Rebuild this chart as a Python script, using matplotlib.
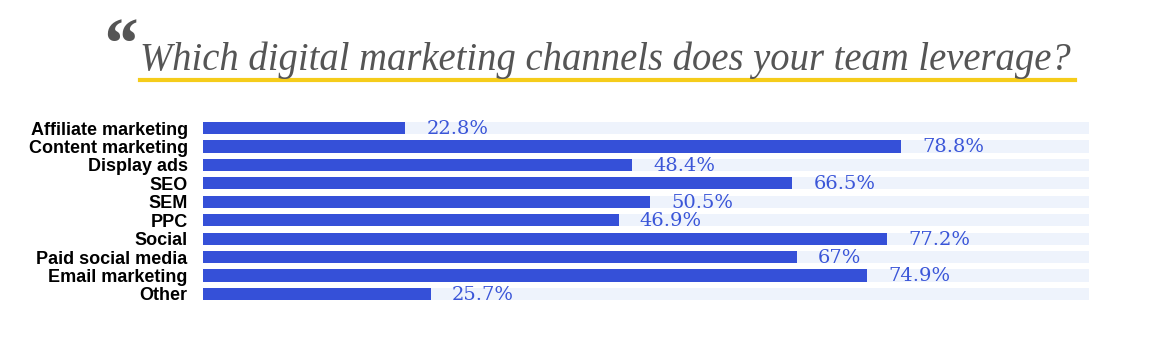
import matplotlib.pyplot as plt
from matplotlib.lines import Line2D

# ---- data ------------------------------------------------------------------
channels = ["Affiliate marketing", "Content marketing", "Display ads", "SEO",
            "SEM", "PPC", "Social", "Paid social media", "Email marketing",
            "Other"]
shares = [22.8, 78.8, 48.4, 66.5, 50.5, 46.9, 77.2, 67, 74.9, 25.7]
title = "Which digital marketing channels does your team leverage?"

BAR_COLOR = "#3550d8"
TRACK_COLOR = "#eef3fc"
LABEL_COLOR = "#3a55d8"

W, H = 1170, 346
fig = plt.figure(figsize=(W / 100, H / 100), dpi=100)

# axes placed in pixel terms of the reference
left, right = 203, 1089
top, bottom = 118.8, 303.2
ax = fig.add_axes([left / W, 1 - bottom / H, (right - left) / W, (bottom - top) / H])

ypos = list(range(len(channels)))
ax.barh(ypos, [100] * len(channels), height=0.66, color=TRACK_COLOR, zorder=1)
ax.barh(ypos, shares, height=0.66, color=BAR_COLOR, zorder=2)

for y, v in zip(ypos, shares):
    ax.text(v + 2.4, y + 0.05, f"{v:g}%", va="center", ha="left",
            fontsize=14, family="DejaVu Serif", color=LABEL_COLOR)

ax.set_xlim(0, 100)
ax.set_ylim(len(channels) - 0.5, -0.5)
ax.set_yticks(ypos)
ax.set_yticklabels(channels, family="Liberation Sans", fontweight="bold",
                   fontsize=13, color="black")
ax.tick_params(axis="y", length=0, pad=11)
ax.set_xticks([])
for s in ax.spines.values():
    s.set_visible(False)

# ---- heading ---------------------------------------------------------------
fig.text(140 / W, 1 - 60 / H, title, family="Liberation Serif", style="italic",
         fontsize=27.8, color="#555555", ha="left", va="center")
fig.text(100 / W, 1 - 17 / H, "\u201c", family="Liberation Serif",
         fontweight="bold", style="italic", fontsize=52, color="#555555",
         ha="left", va="top")
fig.add_artist(Line2D([140 / W, 1075 / W], [1 - 80 / H, 1 - 80 / H],
                      color="#f5cc1a", linewidth=3, transform=fig.transFigure))

fig.savefig("out.png", dpi=100)
